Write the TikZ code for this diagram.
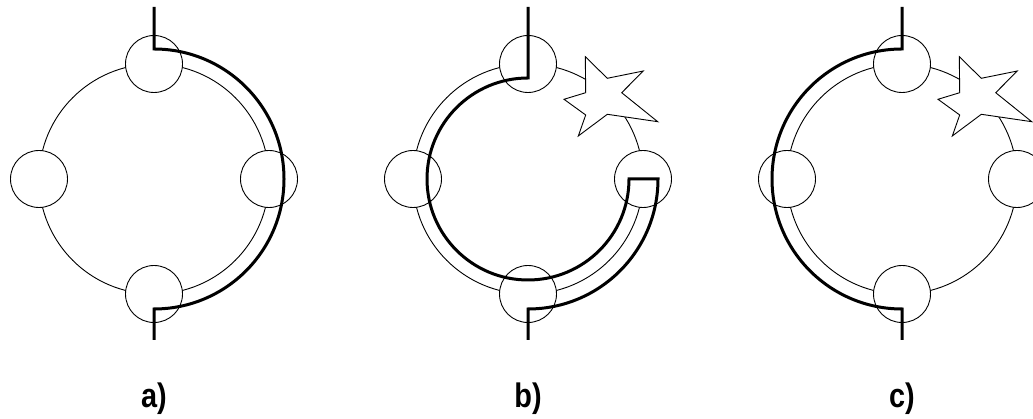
\documentclass[tikz,border=0pt]{standalone}
\usepackage{fontspec}
\setmainfont{Liberation Sans}
\usetikzlibrary{calc}

\tikzset{
  ring/.style={draw, circle, line width=0.9pt, minimum size=230pt, inner sep=0pt},
  port/.style={draw, circle, fill=white, line width=0.9pt, minimum size=57pt, inner sep=0pt},
  route/.style={line width=3pt, line join=miter},
  jam/.style={draw, fill=white, line width=0.9pt, line join=miter},
  caption/.style={font=\bfseries\fontsize{34}{34}\selectfont, xscale=0.85, inner sep=0pt}
}

\begin{document}
\begin{tikzpicture}[x=1pt, y=1pt]
  \useasboundingbox (0,0) rectangle (1033,419);

  % Rings
  \node[ring] (a) at (154,240) {};
  \node[ring] (b) at (528,240) {};
  \node[ring] (c) at (902,240) {};

  % Ports on each ring
  \foreach \r in {a,b,c} {
    \foreach \ang/\p in {90/n, 0/e, 270/s, 180/w} {
      \node[port] (\r-\p) at ($(\r)+(\ang:115)$) {};
    }
  }

  % Feed lines in and out
  \coordinate (a-in)  at (154,412);
  \coordinate (a-out) at (154,79);
  \coordinate (b-in)  at (528,412);
  \coordinate (b-out) at (528,79);
  \coordinate (c-in)  at (902,412);
  \coordinate (c-out) at (902,79);

  % Faults
  \foreach \r in {b,c} {
    \draw[jam, shift={(\r)}]
      (57.3,122.3) -- (79.3,100.7) -- (115.3,108) -- (93.7,86.3)
      -- (129.7,57.3) -- (79.3,64.7) -- (50.3,43) -- (57.7,64)
      -- (36,79.7) -- (57.7,86.3) -- cycle;
  }

  % Paths
  \draw[route] (a-in) -- ++(0,-42) arc[start angle=90, end angle=-90, radius=130] -- (a-out);
  \draw[route] (b-in) -- ++(0,-71) arc[start angle=90, end angle=360, radius=101]
    -- ++(29,0) arc[start angle=0, end angle=-90, radius=130] -- (b-out);
  \draw[route] (c-in) -- ++(0,-42) arc[start angle=90, end angle=270, radius=130] -- (c-out);

  % Captions
  \node[caption] (a-cap) at (154,20) {a)};
  \node[caption] (b-cap) at (528,20) {b)};
  \node[caption] (c-cap) at (902,20) {c)};
\end{tikzpicture}
\end{document}
